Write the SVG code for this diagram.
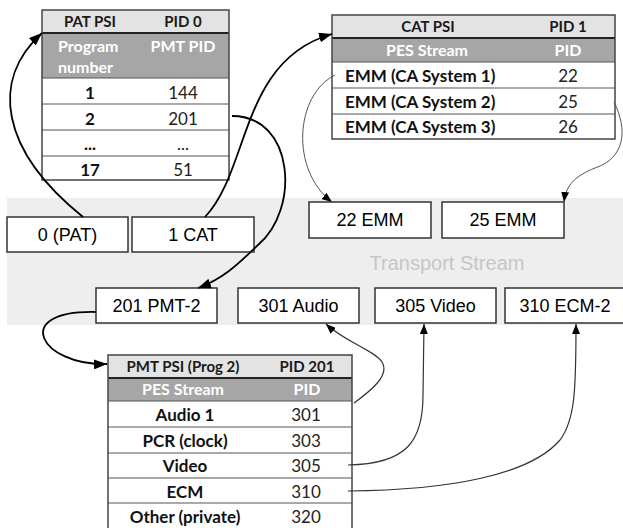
<svg xmlns="http://www.w3.org/2000/svg" width="623" height="528" viewBox="0 0 623 528">
  <style>
    .band { fill: #eeeeee; }
    .hdr { fill: #e3e3e3; }
    .sub { fill: #a6a6a6; }
    .tbl { fill: none; stroke: #444; stroke-width: 1.5; }
    .rule { stroke: #555; stroke-width: 1; }
    .rule-hd { stroke: #222; stroke-width: 2.2; }
    .box { fill: #fff; stroke: #333; stroke-width: 1.5; }
    text { font-family: Lato, "Open Sans", "Liberation Sans", sans-serif; }
    .th { font-weight: bold; font-size: 15px; fill: #1a1a1a; text-anchor: middle; }
    .tg { font-weight: bold; font-size: 16px; fill: #ffffff; text-anchor: middle; }
    .tgl { font-weight: bold; font-size: 16px; fill: #ffffff; }
    .tb { font-weight: bold; font-size: 17px; fill: #111; text-anchor: middle; }
    .tbl-l { font-weight: bold; font-size: 17px; fill: #111; }
    .tn { font-size: 17px; fill: #222; text-anchor: middle; }
    .bx { font-family: "Liberation Sans", Arial, sans-serif; font-size: 18px; fill: #000; text-anchor: middle; }
    .ts { font-family: "Liberation Sans", Arial, sans-serif; font-size: 20px; fill: #c6c6c6; text-anchor: middle; }
    .link { fill: none; stroke: #000; stroke-width: 1.8; }
    .thin { fill: none; stroke: #555; stroke-width: 1; }
    .pid { fill: none; stroke: #333; stroke-width: 1.2; }
  </style>
  <defs>
    <marker id="ah" markerUnits="userSpaceOnUse" markerWidth="13" markerHeight="10" refX="13" refY="5" orient="auto">
      <path d="M0,0 L13,5 L0,10 z" fill="#000"/>
    </marker>
    <marker id="ahs" markerUnits="userSpaceOnUse" markerWidth="10" markerHeight="8" refX="10" refY="4" orient="auto">
      <path d="M0,0 L10,4 L0,8 z" fill="#000"/>
    </marker>
  </defs>

  <!-- transport stream band -->
  <g id="transport-stream">
    <rect class="band" x="7" y="198" width="616" height="127"/>
    <text class="ts" x="447" y="270">Transport Stream</text>
  </g>

  <!-- PAT table -->
  <g id="pat-table">
    <rect class="hdr" x="42" y="10" width="187" height="23"/>
    <rect class="sub" x="42" y="33" width="187" height="45"/>
    <rect fill="#fff" x="42" y="78" width="187" height="102"/>
    <line class="rule" x1="42" y1="78" x2="229" y2="78"/>
    <line class="rule" x1="42" y1="104" x2="229" y2="104"/>
    <line class="rule" x1="42" y1="130" x2="229" y2="130"/>
    <line class="rule" x1="42" y1="156" x2="229" y2="156"/>
    <line class="rule-hd" x1="42" y1="33" x2="229" y2="33"/>
    <rect class="tbl" x="42" y="10" width="187" height="170"/>
    <text class="th" x="90" y="27">PAT PSI</text>
    <text class="th" x="183" y="27">PID 0</text>
    <text class="tgl" x="58" y="52">Program</text>
    <text class="tgl" x="58" y="73">number</text>
    <text class="tg" x="183" y="52">PMT PID</text>
    <text class="tb" x="90" y="99">1</text>
    <text class="tn" x="183" y="99">144</text>
    <text class="tb" x="90" y="125">2</text>
    <text class="tn" x="183" y="125">201</text>
    <text class="tb" x="90" y="150">...</text>
    <text class="tn" x="183" y="150">...</text>
    <text class="tb" x="90" y="176">17</text>
    <text class="tn" x="183" y="176">51</text>
  </g>

  <!-- CAT table -->
  <g id="cat-table">
    <rect class="hdr" x="332" y="15" width="283" height="23"/>
    <rect class="sub" x="332" y="38" width="283" height="24"/>
    <rect fill="#fff" x="332" y="62" width="283" height="77"/>
    <line class="rule" x1="332" y1="62" x2="615" y2="62"/>
    <line class="rule" x1="332" y1="88" x2="615" y2="88"/>
    <line class="rule" x1="332" y1="114" x2="615" y2="114"/>
    <line class="rule-hd" x1="332" y1="38" x2="615" y2="38"/>
    <rect class="tbl" x="332" y="15" width="283" height="124"/>
    <text class="th" x="428" y="32">CAT PSI</text>
    <text class="th" x="568" y="32">PID 1</text>
    <text class="tg" x="427" y="56">PES Stream</text>
    <text class="tg" x="568" y="56">PID</text>
    <text class="tbl-l" x="345" y="82">EMM (CA System 1)</text>
    <text class="tn" x="568" y="82">22</text>
    <text class="tbl-l" x="345" y="108">EMM (CA System 2)</text>
    <text class="tn" x="568" y="108">25</text>
    <text class="tbl-l" x="345" y="133">EMM (CA System 3)</text>
    <text class="tn" x="568" y="133">26</text>
  </g>

  <!-- PMT table for program 2 -->
  <g id="pmt-table">
    <rect class="hdr" x="108" y="355" width="244" height="23"/>
    <rect class="sub" x="108" y="378" width="244" height="23"/>
    <rect fill="#fff" x="108" y="401" width="244" height="130"/>
    <line class="rule" x1="108" y1="401" x2="352" y2="401"/>
    <line class="rule" x1="108" y1="427" x2="352" y2="427"/>
    <line class="rule" x1="108" y1="453" x2="352" y2="453"/>
    <line class="rule" x1="108" y1="478" x2="352" y2="478"/>
    <line class="rule" x1="108" y1="503" x2="352" y2="503"/>
    <line class="rule-hd" x1="108" y1="378" x2="352" y2="378"/>
    <rect class="tbl" x="108" y="355" width="244" height="176"/>
    <text class="th" x="183" y="372">PMT PSI (Prog 2)</text>
    <text class="th" x="307" y="372">PID 201</text>
    <text class="tg" x="183" y="395">PES Stream</text>
    <text class="tg" x="307" y="395">PID</text>
    <text class="tb" x="185" y="421">Audio 1</text>
    <text class="tn" x="306" y="421">301</text>
    <text class="tb" x="185" y="447">PCR (clock)</text>
    <text class="tn" x="306" y="447">303</text>
    <text class="tb" x="185" y="472">Video</text>
    <text class="tn" x="306" y="472">305</text>
    <text class="tb" x="185" y="498">ECM</text>
    <text class="tn" x="306" y="498">310</text>
    <text class="tb" x="185" y="523">Other (private)</text>
    <text class="tn" x="306" y="523">320</text>
  </g>

  <!-- packets in the stream -->
  <g id="pkt-pat"><rect class="box" x="7" y="217" width="121" height="35"/><text class="bx" x="67.5" y="241">0 (PAT)</text></g>
  <g id="pkt-cat"><rect class="box" x="132" y="217" width="122" height="35"/><text class="bx" x="193" y="241">1 CAT</text></g>
  <g id="pkt-emm22"><rect class="box" x="309" y="202" width="122" height="36"/><text class="bx" x="370" y="226">22 EMM</text></g>
  <g id="pkt-emm25"><rect class="box" x="442" y="202" width="122" height="36"/><text class="bx" x="503" y="226">25 EMM</text></g>
  <g id="pkt-pmt2"><rect class="box" x="96" y="288" width="121" height="35"/><text class="bx" x="156.5" y="312">201 PMT-2</text></g>
  <g id="pkt-audio"><rect class="box" x="238" y="288" width="121" height="35"/><text class="bx" x="298.5" y="312">301 Audio</text></g>
  <g id="pkt-video"><rect class="box" x="375" y="288" width="121" height="35"/><text class="bx" x="435.5" y="312">305 Video</text></g>
  <g id="pkt-ecm2"><rect class="box" x="505" y="288" width="122" height="35"/><text class="bx" x="565" y="312">310 ECM-2</text></g>

  <!-- connectors -->
  <g id="connectors">
    <path class="link" d="M83,217 C0,150 -10,80 42,33" marker-end="url(#ah)"/>
    <path class="link" d="M205,217 C250,170 240,60 332,34" marker-end="url(#ah)"/>
    <path class="link" d="M232,116 C295,116 300,210 258,245 C240,262 225,278 198,288" marker-end="url(#ah)"/>
    <path class="link" d="M96,312 C10,310 40,366 107,364" marker-end="url(#ah)"/>
    <path class="thin" d="M335,75 C295,95 290,170 332,202" marker-end="url(#ahs)"/>
    <path class="thin" d="M614,102 C628,130 625,158 595,168 C575,176 566,185 564,202" marker-end="url(#ahs)"/>
    <path class="pid" d="M354,403 C372,390 390,375 382,362 C374,350 345,342 326,324" marker-end="url(#ahs)"/>
    <path class="pid" d="M348,465 C408,464 423,440 423,395 L424,324" marker-end="url(#ahs)"/>
    <path class="pid" d="M348,491 C450,490 530,475 560,440 C575,420 576,390 576,324" marker-end="url(#ahs)"/>
  </g>
</svg>
